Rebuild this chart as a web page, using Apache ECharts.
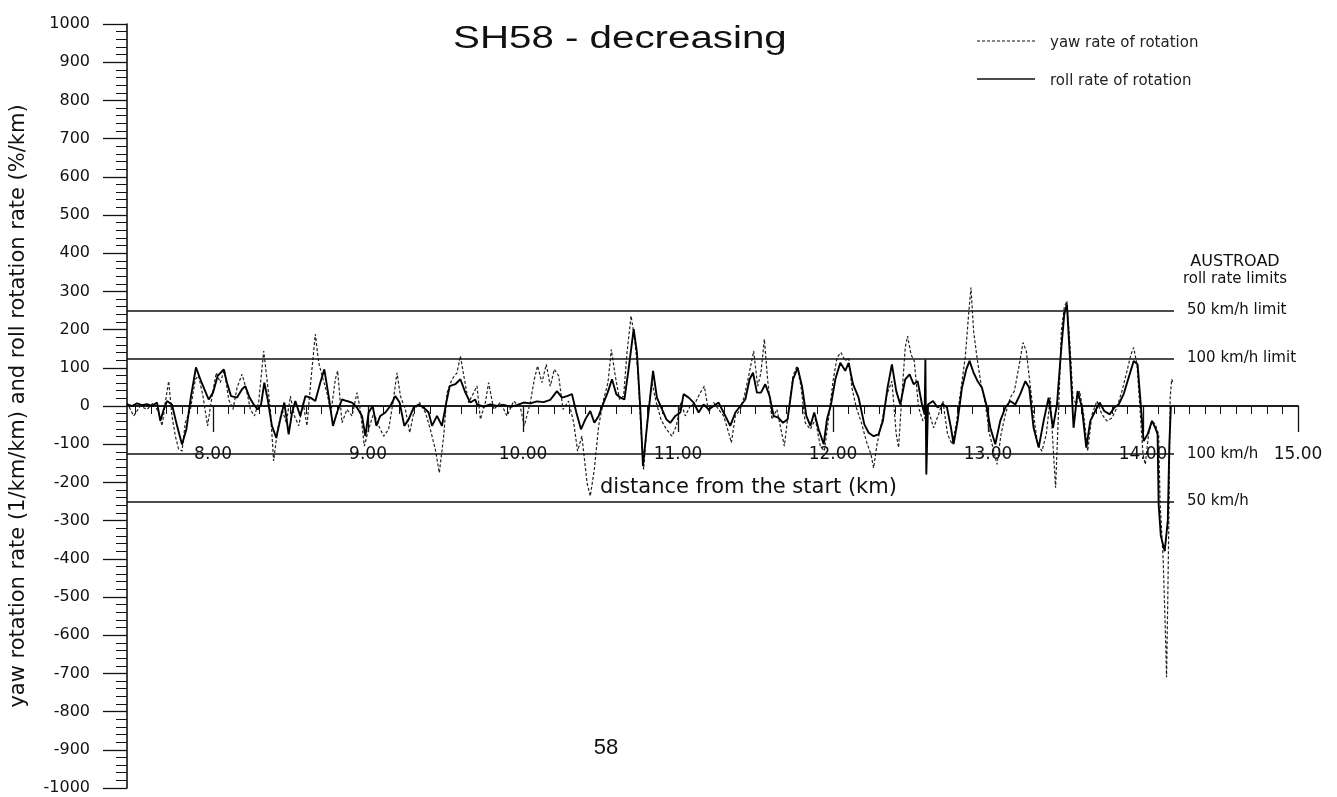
<!DOCTYPE html>
<html>
<head>
<meta charset="utf-8">
<title>SH58 - decreasing</title>
<script src="https://cdn.jsdelivr.net/npm/echarts@6/dist/echarts.min.js"></script>
<style>
  html, body { margin: 0; padding: 0; background: #fff; }
  #chart { width: 1337px; height: 797px; }
</style>
</head>
<body>
<div id="chart"></div>
<script>
// Chart texts
const chartTitle = 'SH58 - decreasing';
const yAxisTitle = 'yaw rotation rate (1/km/km) and roll rotation rate (%/km)';
const xAxisTitle = 'distance from the start (km)';
const seriesNames = ['yaw rate of rotation', 'roll rate of rotation'];
const limitHeading = ['AUSTROAD', 'roll rate limits'];
const pageNumber = '58';

// Distance axis (km)
const distanceRange = [7.445, 15];
const distanceLabels = [8, 9, 10, 11, 12, 13, 14, 15];
const distanceMinorTicks = [];
for (let k = 75; k < 150; k++) { if (k % 10 !== 0) distanceMinorTicks.push(k / 10); }

// Rotation-rate axis
const rateRange = [-1000, 1000];
const rateStep = 100;

// AUSTROAD roll rate limits
const limitValues = [250, 125, -125, -250];
const limitLabels = ['50 km/h limit', '100 km/h limit', '100 km/h', '50 km/h'];
const limitSpan = [7.445, 14.2];

// Yaw rate of rotation [km, 1/km/km]
const yawRate = [
  [7.445,9],[7.488,-26],[7.531,0],[7.574,-9],[7.617,9],[7.649,-17],[7.671,-52],[7.692,9],[7.714,65],[7.735,-26],
  [7.757,-79],[7.778,-113],[7.800,-118],[7.821,-44],[7.854,-9],[7.886,70],[7.907,79],[7.935,26],[7.965,-52],[7.994,26],
  [8.021,87],[8.047,61],[8.073,96],[8.101,17],[8.129,-9],[8.155,48],[8.187,83],[8.215,44],[8.241,-9],[8.267,-26],
  [8.294,9],[8.327,144],[8.348,70],[8.370,-9],[8.391,-144],[8.417,-61],[8.445,-9],[8.473,-44],[8.499,26],[8.525,-26],
  [8.553,-52],[8.581,9],[8.606,-52],[8.632,70],[8.660,188],[8.682,113],[8.710,70],[8.735,35],[8.761,-17],[8.789,70],
  [8.804,92],[8.832,-44],[8.864,-9],[8.897,-26],[8.929,35],[8.950,-9],[8.976,-105],[9.004,-61],[9.037,-17],[9.069,-52],
  [9.101,-79],[9.133,-61],[9.161,9],[9.187,87],[9.209,26],[9.241,-9],[9.269,-70],[9.299,-9],[9.333,9],[9.370,-17],
  [9.402,-61],[9.434,-113],[9.460,-175],[9.488,-79],[9.510,35],[9.542,70],[9.574,87],[9.596,131],[9.622,70],[9.649,9],
  [9.682,35],[9.703,52],[9.725,-35],[9.757,9],[9.778,61],[9.811,-9],[9.854,9],[9.897,-26],[9.940,13],[9.983,-4],
  [10.008,-52],[10.047,9],[10.073,70],[10.094,105],[10.122,61],[10.150,109],[10.176,52],[10.202,96],[10.230,79],[10.258,-9],
  [10.294,13],[10.327,-44],[10.352,-118],[10.380,-79],[10.413,-201],[10.434,-236],[10.460,-166],[10.488,-52],[10.520,17],[10.548,61],
  [10.570,148],[10.595,79],[10.623,17],[10.649,26],[10.671,140],[10.697,236],[10.718,183],[10.740,96],[10.761,-61],[10.778,-166],
  [10.804,-26],[10.832,61],[10.860,9],[10.890,-35],[10.925,-61],[10.961,-79],[10.989,-52],[11.019,9],[11.047,-26],[11.079,0],
  [11.112,9],[11.144,35],[11.170,52],[11.198,-17],[11.230,9],[11.262,-9],[11.294,-26],[11.327,-70],[11.344,-96],[11.370,-26],
  [11.402,-9],[11.428,26],[11.456,79],[11.488,144],[11.514,52],[11.535,87],[11.557,175],[11.578,70],[11.606,-35],[11.638,-9],
  [11.664,-61],[11.686,-105],[11.714,-9],[11.742,79],[11.768,105],[11.793,52],[11.821,-44],[11.854,-61],[11.886,-35],[11.918,-105],
  [11.944,-118],[11.972,-31],[12.000,65],[12.026,127],[12.051,140],[12.079,118],[12.101,127],[12.122,48],[12.150,-4],[12.180,-39],
  [12.215,-92],[12.245,-127],[12.262,-162],[12.284,-100],[12.316,-39],[12.348,31],[12.380,65],[12.408,-74],[12.423,-109],[12.445,31],
  [12.466,153],[12.481,183],[12.503,135],[12.524,118],[12.552,-4],[12.580,-39],[12.617,-13],[12.649,-57],[12.681,-22],[12.709,13],
  [12.739,-74],[12.768,-100],[12.795,-48],[12.821,31],[12.853,127],[12.875,240],[12.890,310],[12.907,196],[12.929,127],[12.955,57],
  [12.983,4],[13.010,-74],[13.032,-109],[13.058,-153],[13.084,-74],[13.112,-22],[13.144,22],[13.170,39],[13.198,100],[13.226,166],
  [13.247,144],[13.269,65],[13.294,-22],[13.320,-100],[13.348,-118],[13.376,-74],[13.402,22],[13.423,-127],[13.436,-214],[13.456,-4],
  [13.473,196],[13.492,258],[13.509,275],[13.527,170],[13.548,22],[13.570,4],[13.591,39],[13.617,-22],[13.643,-118],[13.671,-22],
  [13.703,13],[13.735,-22],[13.767,-39],[13.800,-31],[13.832,-4],[13.864,39],[13.897,92],[13.922,135],[13.940,153],[13.961,109],
  [13.983,-22],[14.000,-127],[14.015,-153],[14.036,-74],[14.058,-39],[14.079,-48],[14.101,-74],[14.110,-250],[14.130,-400],[14.145,-600],
  [14.152,-710],[14.160,-500],[14.168,-260],[14.175,20],[14.185,70],[14.195,60]
];

// Roll rate of rotation [km, %/km]
const rollRate = [
  [7.445,4],[7.477,0],[7.510,7],[7.542,2],[7.574,5],[7.606,0],[7.639,9],[7.660,-39],[7.682,-9],[7.703,13],
  [7.735,4],[7.768,-52],[7.800,-101],[7.828,-61],[7.858,26],[7.890,101],[7.918,70],[7.944,44],[7.972,17],[8.000,35],
  [8.030,79],[8.069,96],[8.090,61],[8.116,26],[8.155,22],[8.187,44],[8.208,52],[8.236,22],[8.262,4],[8.288,-9],
  [8.310,4],[8.331,61],[8.353,17],[8.380,-52],[8.408,-83],[8.434,-35],[8.460,9],[8.488,-74],[8.510,-17],[8.531,13],
  [8.563,-26],[8.596,26],[8.628,22],[8.660,13],[8.692,61],[8.718,96],[8.746,26],[8.774,-52],[8.800,-17],[8.832,17],
  [8.864,13],[8.897,9],[8.929,-4],[8.961,-26],[8.983,-79],[9.004,-17],[9.030,0],[9.054,-52],[9.079,-26],[9.112,-17],
  [9.144,0],[9.176,26],[9.204,9],[9.234,-52],[9.262,-35],[9.294,-4],[9.327,4],[9.359,-4],[9.391,-17],[9.413,-52],
  [9.445,-26],[9.477,-52],[9.505,9],[9.527,52],[9.563,57],[9.596,70],[9.628,35],[9.660,9],[9.692,17],[9.703,4],
  [9.746,-2],[9.789,4],[9.832,0],[9.875,3],[9.918,-2],[9.961,2],[10.004,9],[10.047,7],[10.090,12],[10.133,10],
  [10.176,16],[10.219,39],[10.251,22],[10.284,26],[10.316,31],[10.344,-17],[10.374,-61],[10.402,-35],[10.434,-13],[10.460,-44],
  [10.488,-26],[10.520,9],[10.546,35],[10.574,70],[10.602,31],[10.628,22],[10.654,17],[10.681,96],[10.714,201],[10.735,140],
  [10.757,-9],[10.774,-157],[10.800,-52],[10.821,26],[10.839,92],[10.864,22],[10.897,-9],[10.925,-35],[10.950,-44],[10.983,-26],
  [11.015,-17],[11.036,31],[11.069,22],[11.101,9],[11.133,-17],[11.165,4],[11.198,-9],[11.230,0],[11.262,9],[11.294,-17],
  [11.337,-52],[11.370,-17],[11.402,0],[11.434,17],[11.462,70],[11.484,87],[11.509,35],[11.535,35],[11.563,57],[11.591,26],
  [11.617,-26],[11.649,-31],[11.677,-44],[11.707,-35],[11.742,70],[11.772,100],[11.800,52],[11.828,-26],[11.854,-52],[11.879,-17],
  [11.907,-61],[11.940,-100],[11.961,-35],[11.987,4],[12.015,70],[12.047,113],[12.079,92],[12.101,113],[12.129,57],[12.165,22],
  [12.202,-48],[12.230,-70],[12.262,-79],[12.294,-74],[12.322,-39],[12.352,48],[12.380,109],[12.408,39],[12.434,4],[12.466,70],
  [12.494,83],[12.520,57],[12.546,65],[12.574,4],[12.591,-22],[12.596,122],[12.602,-179],[12.613,4],[12.645,13],[12.675,-4],[12.709,4],
  [12.735,-3],[12.761,-57],[12.778,-100],[12.804,-39],[12.832,48],[12.860,96],[12.881,118],[12.907,87],[12.933,65],[12.961,48],
  [12.989,4],[13.015,-57],[13.047,-100],[13.079,-39],[13.112,-4],[13.144,13],[13.176,4],[13.208,31],[13.241,65],[13.266,48],
  [13.294,-57],[13.327,-109],[13.359,-39],[13.391,22],[13.419,-57],[13.445,4],[13.473,153],[13.492,240],[13.509,266],[13.531,109],
  [13.552,-57],[13.578,39],[13.606,-4],[13.634,-109],[13.660,-39],[13.692,-13],[13.720,9],[13.750,-13],[13.785,-22],[13.815,-4],
  [13.843,4],[13.875,31],[13.907,74],[13.940,118],[13.965,109],[13.987,-4],[14.004,-92],[14.030,-74],[14.058,-39],[14.079,-57],
  [14.094,-74],[14.101,-258],[14.115,-340],[14.140,-380],[14.160,-300],[14.170,-100],[14.180,0]
];

const FONT = 'DejaVu Sans';
const INK = '#111';

// Plot frame (pixels); the distance axis sits on the zero rate line.
const GRID = { left: 127, right: 39, top: 24, bottom: 9 };
const plotHeight = 797 - GRID.top - GRID.bottom;
const zeroLineOffset = -plotHeight * (0 - rateRange[0]) / (rateRange[1] - rateRange[0]);

const chart = echarts.init(document.getElementById('chart'), null, { renderer: 'canvas' });

const limitLines = limitValues.map((v, i) => [
  { coord: [limitSpan[0], v], name: limitLabels[i] },
  { coord: [limitSpan[1], v] }
]);

const distanceAxisBase = {
  type: 'value',
  position: 'bottom',
  min: distanceRange[0],
  max: distanceRange[1],
  offset: zeroLineOffset,
  axisLine: { onZero: false, lineStyle: { color: INK, width: 1.6 } },
  splitLine: { show: false }
};

// Legend drawn as line samples next to the series names
const legendRows = [
  { y: 41, dash: [3, 2], width: 1.1 },
  { y: 79, dash: null, width: 1.7 }
];
const legendGraphics = [];
legendRows.forEach((row, i) => {
  legendGraphics.push({
    type: 'line',
    shape: { x1: 977, y1: row.y, x2: 1035, y2: row.y },
    style: { stroke: INK, lineWidth: row.width, lineDash: row.dash }
  });
  legendGraphics.push({
    type: 'text', x: 1050, y: row.y + 2,
    style: { text: seriesNames[i], font: '15px "DejaVu Sans"', fill: '#222', textAlign: 'left', textVerticalAlign: 'middle' }
  });
});

chart.setOption({
  animation: false,
  backgroundColor: '#fff',
  grid: Object.assign({ containLabel: false, outerBoundsMode: 'none' }, GRID),
  xAxis: [
    Object.assign({}, distanceAxisBase, {
      axisTick: { customValues: distanceLabels, length: 26, lineStyle: { color: INK, width: 1.3 } },
      axisLabel: {
        customValues: distanceLabels,
        margin: 40,
        formatter: v => v.toFixed(2),
        fontFamily: FONT, fontSize: 17, color: INK
      }
    }),
    Object.assign({}, distanceAxisBase, {
      axisTick: { customValues: distanceMinorTicks, length: 8, lineStyle: { color: INK, width: 1 } },
      axisLabel: { show: false }
    })
  ],
  yAxis: {
    type: 'value',
    min: rateRange[0],
    max: rateRange[1],
    interval: rateStep,
    name: yAxisTitle,
    nameLocation: 'middle',
    nameGap: 98,
    nameTextStyle: { fontFamily: FONT, fontSize: 21, color: INK },
    axisLine: { onZero: false, lineStyle: { color: INK, width: 1.6 } },
    axisTick: { length: 24, lineStyle: { color: INK, width: 1.3 } },
    minorTick: { show: true, splitNumber: 5, length: 11, lineStyle: { color: INK, width: 1 } },
    axisLabel: { margin: 37, fontFamily: FONT, fontSize: 16, color: INK, formatter: v => String(v) },
    splitLine: { show: false }
  },
  series: [
    {
      name: seriesNames[0],
      type: 'line',
      xAxisIndex: 0,
      data: yawRate,
      symbol: 'none',
      z: 2,
      lineStyle: { color: '#222', width: 1.2, type: [3, 2] }
    },
    {
      name: seriesNames[1],
      type: 'line',
      xAxisIndex: 0,
      data: rollRate,
      symbol: 'none',
      z: 3,
      lineStyle: { color: '#000', width: 1.9 },
      markLine: {
        silent: true,
        symbol: ['none', 'none'],
        lineStyle: { type: 'solid', color: INK, width: 1.6 },
        label: {
          show: true, position: 'end', distance: 13, formatter: '{b}',
          fontFamily: FONT, fontSize: 15, color: INK
        },
        emphasis: { disabled: true },
        data: limitLines
      }
    }
  ],
  graphic: [
    {
      type: 'text', x: 453, y: 24, scaleX: 1.3,
      style: { text: chartTitle, font: '31px "Liberation Sans"', fill: INK, textAlign: 'left', textVerticalAlign: 'top' }
    },
    {
      type: 'text', x: 1235, y: 262,
      style: { text: limitHeading[0], font: '16px "DejaVu Sans"', fill: INK, textAlign: 'center', textVerticalAlign: 'middle' }
    },
    {
      type: 'text', x: 1235, y: 279,
      style: { text: limitHeading[1], font: '15px "DejaVu Sans"', fill: INK, textAlign: 'center', textVerticalAlign: 'middle' }
    },
    {
      type: 'text', x: 600, y: 488,
      style: { text: xAxisTitle, font: '21px "DejaVu Sans"', fill: INK, textAlign: 'left', textVerticalAlign: 'middle' }
    },
    {
      type: 'text', x: 606, y: 748,
      style: { text: pageNumber, font: '22px "Liberation Sans"', fill: INK, textAlign: 'center', textVerticalAlign: 'middle' }
    }
  ].concat(legendGraphics)
});
</script>
</body>
</html>
